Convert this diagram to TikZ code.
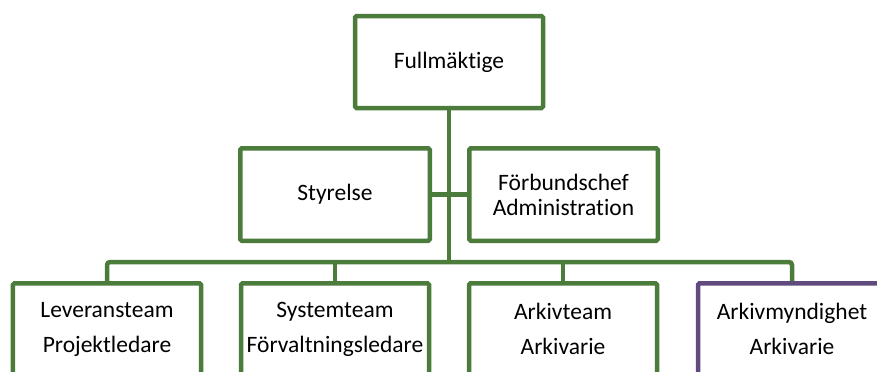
\documentclass[tikz,border=0pt]{standalone}
\usepackage{fontspec}
\setmainfont{Carlito}[Ligatures={NoCommon}]
\definecolor{orggreen}{RGB}{76,124,60}
\definecolor{orgpurple}{RGB}{96,74,126}
\begin{document}
\begin{tikzpicture}[x=1bp,y=-1bp,
  box/.style={draw=orggreen,line width=4.5bp,rounded corners=1.5bp,fill=white,
    minimum width=188bp,minimum height=92bp,inner sep=0pt,align=center,
    font=\fontsize{23.5bp}{25bp}\selectfont},
  lowbox/.style={box,font=\fontsize{23.5bp}{35bp}\selectfont},
  purplebox/.style={lowbox,draw=orgpurple},
  conn/.style={draw=orggreen,line width=4.5bp,rounded corners=3bp}]
\useasboundingbox (0,0) rectangle (877,371);
\clip (0,0) rectangle (877,371);
\coordinate (bus) at (449,262);
% boxes
\node[box] (full) at (449,62) {Fullmäktige};
\node[box,minimum width=189.5bp,minimum height=92.5bp] (sty) at (335,194.5) {Styrelse};
\node[box,minimum width=188.5bp,minimum height=92.5bp] (forb) at (563.5,194.5) {Förbundschef\\Administration};
\node[lowbox] (lev) at (107,329.25) {Leveransteam\\Projektledare};
\node[lowbox] (sys) at (335,329.25) {Systemteam\\Förvaltningsledare};
\node[lowbox] (ark) at (563,329.25) {Arkivteam\\Arkivarie};
\node[purplebox] (myn) at (792,329.25) {Arkivmyndighet\\Arkivarie};
% connectors
\draw[conn] (full.south) -- (bus);
\draw[conn] (sty.east) -- (forb.west);
\draw[conn] (lev.north) |- (bus) -| (myn.north);
\draw[conn] (sys.north) -- (sys.north |- bus);
\draw[conn] (ark.north) -- (ark.north |- bus);
\end{tikzpicture}
\end{document}
